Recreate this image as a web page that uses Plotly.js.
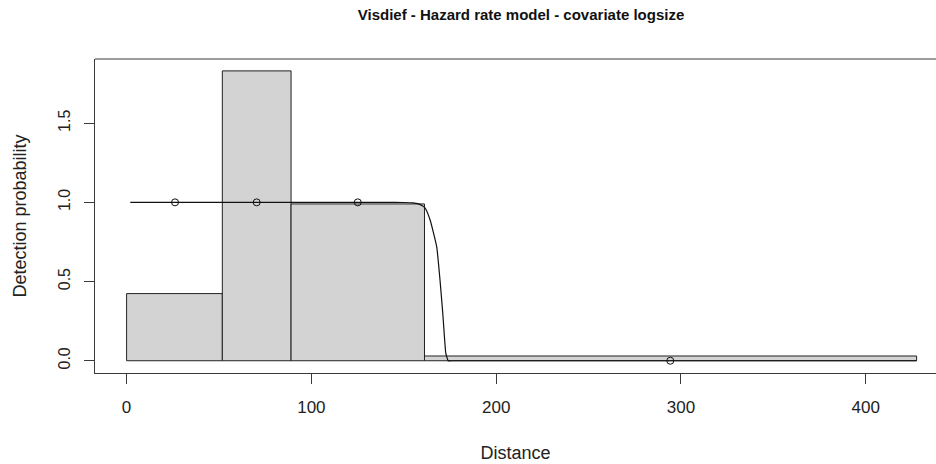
<!DOCTYPE html>
<html>
<head>
<meta charset="utf-8">
<script src="https://cdn.plot.ly/plotly-3.0.1.min.js"></script>
<style>html,body{margin:0;padding:0;background:#fff;}#chart{width:936px;height:464px;}</style>
</head>
<body>
<div id="chart"></div>
<script>
// Histogram bins (distance cut points) and bar heights
const binEdges = [0, 51.8, 89.0, 161.2, 427.5];
const barHeights = [0.424, 1.830, 0.990, 0.030];

// Fitted detection function
const curveX = [2, 40, 80, 120, 140, 150, 155, 158, 160, 161.2, 162, 164.2, 166, 167.8, 169.6, 171.1, 172.7, 174, 176, 200, 300, 427.5];
const curveY = [1.0, 1.0, 1.0, 1.0, 1.0, 0.999, 0.997, 0.99, 0.978, 0.968, 0.955, 0.89, 0.81, 0.72, 0.51, 0.30, 0.05, 0.0, 0.0, 0.0, 0.0, 0.0];

// Observed points
const pointX = [26.2, 70.4, 125.1, 294.2];
const pointY = [1.0, 1.0, 1.0, 0.0];

const xTicks = [0, 100, 200, 300, 400];
const yTicks = [0, 0.5, 1.0, 1.5];

const barMid = [], barWidth = [];
for (let i = 0; i < barHeights.length; i++) {
  barMid.push((binEdges[i] + binEdges[i + 1]) / 2);
  barWidth.push(binEdges[i + 1] - binEdges[i]);
}

const font = 'Liberation Sans, Arial, sans-serif';
const lineCol = '#3a3a3a';

const traces = [
  {
    type: 'bar', x: barMid, y: barHeights, width: barWidth,
    marker: {color: '#D3D3D3', line: {color: '#222', width: 1}},
    hoverinfo: 'skip', showlegend: false
  },
  {
    type: 'scatter', mode: 'lines', x: curveX, y: curveY,
    line: {color: '#111', width: 1.2, shape: 'spline', smoothing: 0.3},
    hoverinfo: 'skip', showlegend: false
  },
  {
    type: 'scatter', mode: 'markers', x: pointX, y: pointY,
    marker: {symbol: 'circle-open', size: 7, color: '#111', line: {width: 1, color: '#111'}},
    hoverinfo: 'skip', showlegend: false
  }
];

const layout = {
  width: 936, height: 464,
  margin: {l: 95, r: 0, t: 59, b: 91},
  paper_bgcolor: '#fff', plot_bgcolor: '#fff',
  font: {family: font, color: '#222'},
  title: {
    text: 'Visdief - Hazard rate model - covariate logsize',
    font: {family: font, size: 15, color: '#111', weight: 'bold'},
    xref: 'container', x: 521 / 936, xanchor: 'center',
    yref: 'container', y: 1 - 15 / 464, yanchor: 'middle'
  },
  xaxis: {
    range: [-17.1, 438.0], fixedrange: true,
    tickvals: xTicks, ticktext: xTicks.map(String),
    ticks: 'outside', ticklen: 10, tickcolor: lineCol, tickwidth: 1,
    tickfont: {family: font, size: 17, color: '#222'},
    showline: true, linecolor: lineCol, linewidth: 1,
    showgrid: false, zeroline: false,
    ticklabelstandoff: 9,
    automargin: false,
    title: {text: 'Distance', font: {family: font, size: 18, color: '#222'}, standoff: 29}
  },
  yaxis: {
    range: [-0.0774, 1.905], fixedrange: true,
    tickvals: yTicks, ticktext: yTicks.map(v => v.toFixed(1)),
    tickangle: -90,
    ticks: 'outside', ticklen: 10, tickcolor: lineCol, tickwidth: 1,
    tickfont: {family: font, size: 16, color: '#222'},
    showline: true, linecolor: lineCol, linewidth: 1,
    showgrid: false, zeroline: false,
    ticklabelstandoff: 8,
    automargin: false,
    title: {text: 'Detection probability', font: {family: font, size: 18, color: '#222'}, standoff: 24}
  },
  shapes: [
    {type: 'line', xref: 'paper', yref: 'paper', x0: 0, x1: 1, y0: 1, y1: 1,
     line: {color: lineCol, width: 1}}
  ],
  bargap: 0
};

Plotly.newPlot('chart', traces, layout, {staticPlot: true, displayModeBar: false});
</script>
</body>
</html>
